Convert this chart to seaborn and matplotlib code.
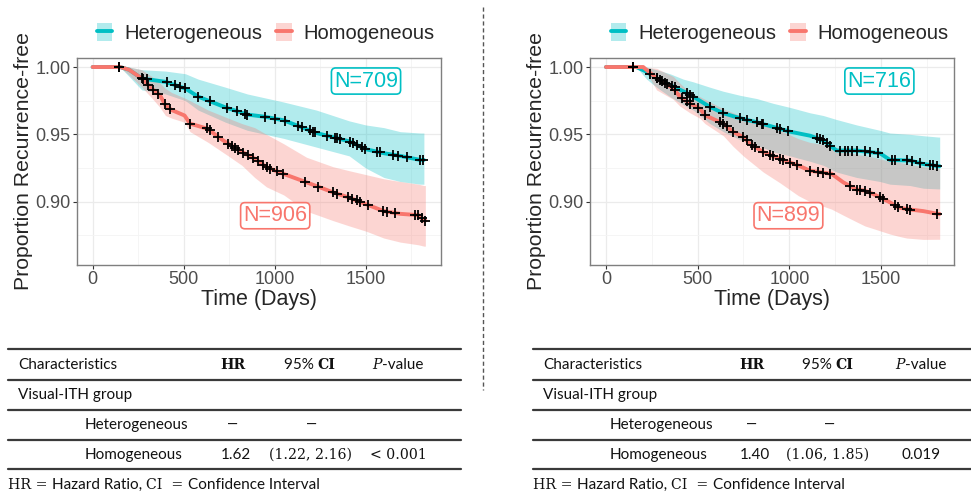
import numpy as np
import matplotlib
matplotlib.use("Agg")
import matplotlib.pyplot as plt
from matplotlib.patches import Patch
from matplotlib.lines import Line2D
import seaborn as sns

# ---- data ----
GROUPS = ["Heterogeneous", "Homogeneous"]

# left panel, Heterogeneous
l_het_time = [0, 150, 200, 270, 400, 510, 580, 730, 850, 950, 1050, 1230, 1410, 1500, 1600, 1690, 1800, 1820]
l_het_surv = [1.0, 1.0, 0.998, 0.9915, 0.989, 0.984, 0.978, 0.970, 0.9647, 0.963, 0.9604, 0.951, 0.9448, 0.939, 0.936, 0.934, 0.931, 0.931]
l_het_hi = [1.0, 1.0, 1.0, 0.998, 0.997, 0.995, 0.991, 0.985, 0.980, 0.977, 0.974, 0.968, 0.960, 0.957, 0.955, 0.952, 0.951, 0.951]
l_het_lo = [1.0, 1.0, 0.993, 0.983, 0.980, 0.975, 0.968, 0.959, 0.953, 0.950, 0.947, 0.9405, 0.934, 0.925, 0.918, 0.915, 0.913, 0.913]
l_het_cens = [146, 278, 297, 407, 452, 480, 507, 580, 645, 736, 791, 837, 850, 947, 1002, 1057, 1130, 1148,
              1194, 1209, 1222, 1286, 1331, 1344, 1359, 1414, 1428, 1450, 1478, 1496, 1560, 1578, 1652,
              1680, 1725, 1799, 1817]

# left panel, Homogeneous
l_hom_time = [0, 150, 200, 270, 325, 370, 400, 435, 505, 535, 635, 690, 745, 820, 890, 955, 1050, 1175,
              1320, 1410, 1505, 1600, 1690, 1790, 1820, 1828]
l_hom_surv = [1.0, 1.0, 0.998, 0.9915, 0.984, 0.979, 0.9716, 0.968, 0.964, 0.958, 0.954, 0.948, 0.943, 0.937,
              0.932, 0.9256, 0.9206, 0.9144, 0.907, 0.903, 0.898, 0.893, 0.891, 0.890, 0.886, 0.886]
l_hom_hi = [1.0, 1.0, 1.0, 0.998, 0.993, 0.988, 0.984, 0.981, 0.977, 0.975, 0.968, 0.965, 0.962, 0.958,
            0.955, 0.950, 0.943, 0.933, 0.926, 0.923, 0.920, 0.917, 0.915, 0.913, 0.912, 0.912]
l_hom_lo = [1.0, 1.0, 0.994, 0.985, 0.977, 0.970, 0.964, 0.962, 0.959, 0.952, 0.944, 0.939, 0.934, 0.927,
            0.918, 0.911, 0.905, 0.893, 0.886, 0.882, 0.878, 0.873, 0.870, 0.868, 0.867, 0.867]
l_hom_cens = [146, 269, 306, 333, 361, 397, 425, 535, 626, 645, 690, 745, 764, 782, 800, 828, 855, 883, 910,
              938, 956, 975, 1011, 1048, 1167, 1240, 1322, 1341, 1405, 1423, 1450, 1469, 1514, 1597, 1615,
              1661, 1771, 1790, 1808, 1826]

# right panel, Heterogeneous
r_het_time = [0, 165, 222, 276, 349, 422, 476, 567, 640, 731, 822, 913, 1004, 1113, 1185, 1258, 1367, 1494,
              1549, 1658, 1731, 1813, 1820]
r_het_surv = [1.0, 1.0, 0.9965, 0.9916, 0.9866, 0.982, 0.978, 0.9704, 0.9657, 0.962, 0.959, 0.9555, 0.952,
              0.949, 0.9455, 0.938, 0.938, 0.936, 0.931, 0.9306, 0.928, 0.9264, 0.9264]
r_het_hi = [1.0, 1.0, 1.0, 0.998, 0.995, 0.991, 0.989, 0.985, 0.982, 0.979, 0.9766, 0.973, 0.970, 0.966,
            0.964, 0.961, 0.957, 0.953, 0.951, 0.950, 0.949, 0.948, 0.948]
r_het_lo = [1.0, 1.0, 0.991, 0.985, 0.978, 0.972, 0.968, 0.958, 0.952, 0.946, 0.942, 0.937, 0.934, 0.930,
            0.927, 0.922, 0.918, 0.915, 0.913, 0.912, 0.910, 0.9095, 0.9095]
r_het_cens = [149, 240, 276, 295, 322, 358, 376, 440, 458, 476, 567, 640, 731, 767, 822, 849, 858, 931, 949,
              994, 1149, 1167, 1185, 1204, 1222, 1276, 1304, 1322, 1340, 1367, 1413, 1440, 1485, 1558,
              1576, 1640, 1667, 1713, 1767, 1785, 1803]

# right panel, Homogeneous
r_hom_time = [0, 203, 276, 367, 403, 458, 512, 540, 640, 694, 749, 785, 858, 949, 1049, 1113, 1230, 1294,
              1367, 1412, 1458, 1549, 1594, 1640, 1731, 1813, 1820]
r_hom_surv = [1.0, 1.0, 0.9916, 0.9842, 0.978, 0.9729, 0.9692, 0.9642, 0.958, 0.9518, 0.948, 0.9431, 0.9368,
              0.9318, 0.9269, 0.923, 0.9207, 0.9144, 0.909, 0.9082, 0.9057, 0.8995, 0.8958, 0.8945, 0.893,
              0.8909, 0.8909]
r_hom_hi = [1.0, 1.0, 0.999, 0.993, 0.988, 0.981, 0.978, 0.976, 0.969, 0.966, 0.963, 0.961, 0.957, 0.953,
            0.9468, 0.944, 0.9418, 0.938, 0.935, 0.9343, 0.933, 0.930, 0.9294, 0.928, 0.926, 0.9244, 0.9244]
r_hom_lo = [1.0, 1.0, 0.983, 0.976, 0.971, 0.966, 0.962, 0.958, 0.949, 0.941, 0.934, 0.930, 0.922, 0.914,
            0.9045, 0.900, 0.8945, 0.890, 0.885, 0.882, 0.880, 0.876, 0.8744, 0.873, 0.872, 0.8721, 0.8721]
r_hom_cens = [149, 276, 304, 331, 376, 413, 440, 458, 504, 540, 622, 640, 658, 694, 749, 767, 794, 813, 858,
              894, 913, 949, 967, 1004, 1040, 1113, 1158, 1185, 1222, 1331, 1367, 1385, 1413, 1440, 1494,
              1513, 1576, 1594, 1640, 1658, 1803]

n_left = [709, 906]
n_right = [716, 899]

# Cox table
tbl_header = ["Characteristics", "HR", "95% CI", "P-value"]
tbl_group = "Visual-ITH group"
left_hr = ["\u2013", "1.62"]
left_ci = ["\u2013", "(1.22, 2.16)"]
left_p = ["", "< 0.001"]
right_hr = ["\u2013", "1.40"]
right_ci = ["\u2013", "(1.06, 1.85)"]
right_p = ["", "0.019"]

# ---- style ----
W, H = 971, 496
TEAL = "#00BFC4"
RED = "#F8766D"
sns.set_theme(style="white")
plt.rcParams["font.family"] = ["Liberation Sans", "DejaVu Sans"]

fig = plt.figure(figsize=(W / 100, H / 100), dpi=100)


def fx(px):
    return px / W


def fy(py):
    return 1 - py / H


def km_panel(rect, xlim, curves, labels):
    ax = fig.add_axes(rect)
    for t, s, lo, hi, cens, col in curves:
        ax.fill_between(t, lo, hi, color=col, alpha=0.3, lw=0)
    for t, s, lo, hi, cens, col in curves:
        sns.lineplot(x=t, y=s, color=col, lw=2.8, errorbar=None, ax=ax, zorder=3)
    for t, s, lo, hi, cens, col in curves:
        ys = np.interp(cens, t, s)
        ax.plot(cens, ys, ls="none", marker="+", ms=7, mew=1.3, color="black", zorder=4)
    for (x, y, txt, col) in labels:
        ax.text(x, y, txt, color=col, fontsize=15.5, ha="center", va="center", zorder=5,
                bbox=dict(boxstyle="round,pad=0.12,rounding_size=0.2", fc="white", ec=col, lw=1.2))
    ax.set_xlim(*xlim)
    ax.set_ylim(0.853, 1.0067)
    ax.set_xticks([0, 500, 1000, 1500])
    ax.set_xticks([250, 750, 1250, 1750], minor=True)
    ax.set_yticks([0.90, 0.95, 1.00])
    ax.set_yticklabels(["0.90", "0.95", "1.00"])
    ax.set_yticks([0.875, 0.925, 0.975], minor=True)
    ax.grid(which="major", color="#EBEBEB", lw=0.9)
    ax.grid(which="minor", color="#F4F4F4", lw=0.6)
    ax.set_axisbelow(True)
    for sp in ax.spines.values():
        sp.set_color("#7F7F7F")
        sp.set_linewidth(1.0)
    ax.tick_params(which="major", length=3, width=0.8, color="#333333", labelsize=13,
                   labelcolor="#4D4D4D", pad=1.5, bottom=True, left=True)
    ax.tick_params(which="minor", length=0)
    ax.set_xlabel("Time (Days)", fontsize=15.5)
    ax.set_ylabel("Proportion Recurrence-free", fontsize=15.3)
    ax.xaxis.set_label_coords(0.5, -0.165)
    ax.xaxis.label.set_va("center")
    return ax


def legend_at(cx, cy):
    handles = [(Patch(fc=TEAL, alpha=0.3, lw=0), Line2D([], [], color=TEAL, lw=2.8)),
               (Patch(fc=RED, alpha=0.3, lw=0), Line2D([], [], color=RED, lw=2.8))]
    fig.legend(handles, GROUPS, loc="center", bbox_to_anchor=(fx(cx), fy(cy)), ncol=2,
               frameon=False, fontsize=14.5, handlelength=0.75, handleheight=0.95,
               handletextpad=0.6, columnspacing=0.7)


axl = km_panel([fx(77), 1 - 265 / H, 364 / W, 207 / H], (-86, 1914),
               [(l_het_time, l_het_surv, l_het_lo, l_het_hi, l_het_cens, TEAL),
                (l_hom_time, l_hom_surv, l_hom_lo, l_hom_hi, l_hom_cens, RED)],
               [(1502, 0.9896, f"N={n_left[0]}", TEAL), (1003, 0.8896, f"N={n_left[1]}", RED)])
axl.yaxis.set_label_coords(-0.148, 0.5)
axl.yaxis.label.set_va("center")

axr = km_panel([fx(590), 1 - 265 / H, 364 / W, 207 / H], (-87, 1898),
               [(r_het_time, r_het_surv, r_het_lo, r_het_hi, r_het_cens, TEAL),
                (r_hom_time, r_hom_surv, r_hom_lo, r_hom_hi, r_hom_cens, RED)],
               [(1491, 0.9896, f"N={n_right[0]}", TEAL), (995, 0.8896, f"N={n_right[1]}", RED)])
axr.yaxis.set_label_coords(-0.146, 0.5)
axr.yaxis.label.set_va("center")

legend_at(266, 33)
legend_at(780, 33)

# dashed separator
fig.add_artist(Line2D([fx(483), fx(483)], [fy(7), fy(390)], color="#555555", lw=1.0,
                      ls=(0, (3, 2))))

# ---- tables ----
fig.canvas.draw()
renderer = fig.canvas.get_renderer()
SANS = dict(family=["Lato", "DejaVu Sans"], size=11, color="#111111")
SERIF = dict(family=["DejaVu Serif"], size=10.2, color="#111111")
SERIF_B = dict(SERIF, weight="bold")
SERIF_I = dict(SERIF, style="italic")
DASH = dict(SERIF, size=16)


def runs(x, y, parts, align="left"):
    texts = [fig.text(0, fy(y), s, va="center", ha="left", **p) for s, p in parts]
    widths = [t.get_window_extent(renderer).width for t in texts]
    total = sum(widths)
    x0 = x if align == "left" else x - total / 2
    for t, w in zip(texts, widths):
        t.set_x(fx(x0))
        x0 += w


def table(x0, x1, cols, hr, ci, p):
    for yy in [349, 380, 410, 440, 469]:
        fig.add_artist(Line2D([fx(x0), fx(x1)], [fy(yy), fy(yy)], color="#3a3a3a", lw=1.6))
    cx_hr, cx_ci, cx_p = cols
    runs(x0 + 10, 365, [(tbl_header[0], SANS)])
    runs(cx_hr, 365, [(tbl_header[1], SERIF_B)], "center")
    runs(cx_ci, 365, [("95% ", SANS), ("CI", SERIF_B)], "center")
    runs(cx_p, 365, [("P", SERIF_I), ("-value", SANS)], "center")
    runs(x0 + 10, 395, [(tbl_group, SANS)])
    runs(x0 + 77, 425, [(GROUPS[0], SANS)])
    runs(x0 + 77, 455, [(GROUPS[1], SANS)])
    runs(cx_hr, 425, [(hr[0], DASH)], "center")
    runs(cx_ci + 2, 425, [(ci[0], DASH)], "center")
    runs(cx_hr + 3, 455, [(hr[1], SANS)], "center")
    runs(cx_ci, 455, [(ci[1], SERIF)], "center")
    pfont = SERIF if p[1].startswith("<") else SANS
    runs(cx_p, 455, [(p[1], pfont)], "center")
    runs(x0, 485, [("HR = ", SERIF), ("Hazard Ratio, ", SANS), ("CI  = ", SERIF),
                   ("Confidence Interval", SANS)])


table(8, 461, (233, 310, 398), left_hr, left_ci, left_p)
table(533, 971, (752, 828, 921), right_hr, right_ci, right_p)

fig.savefig("out.png", dpi=100)
